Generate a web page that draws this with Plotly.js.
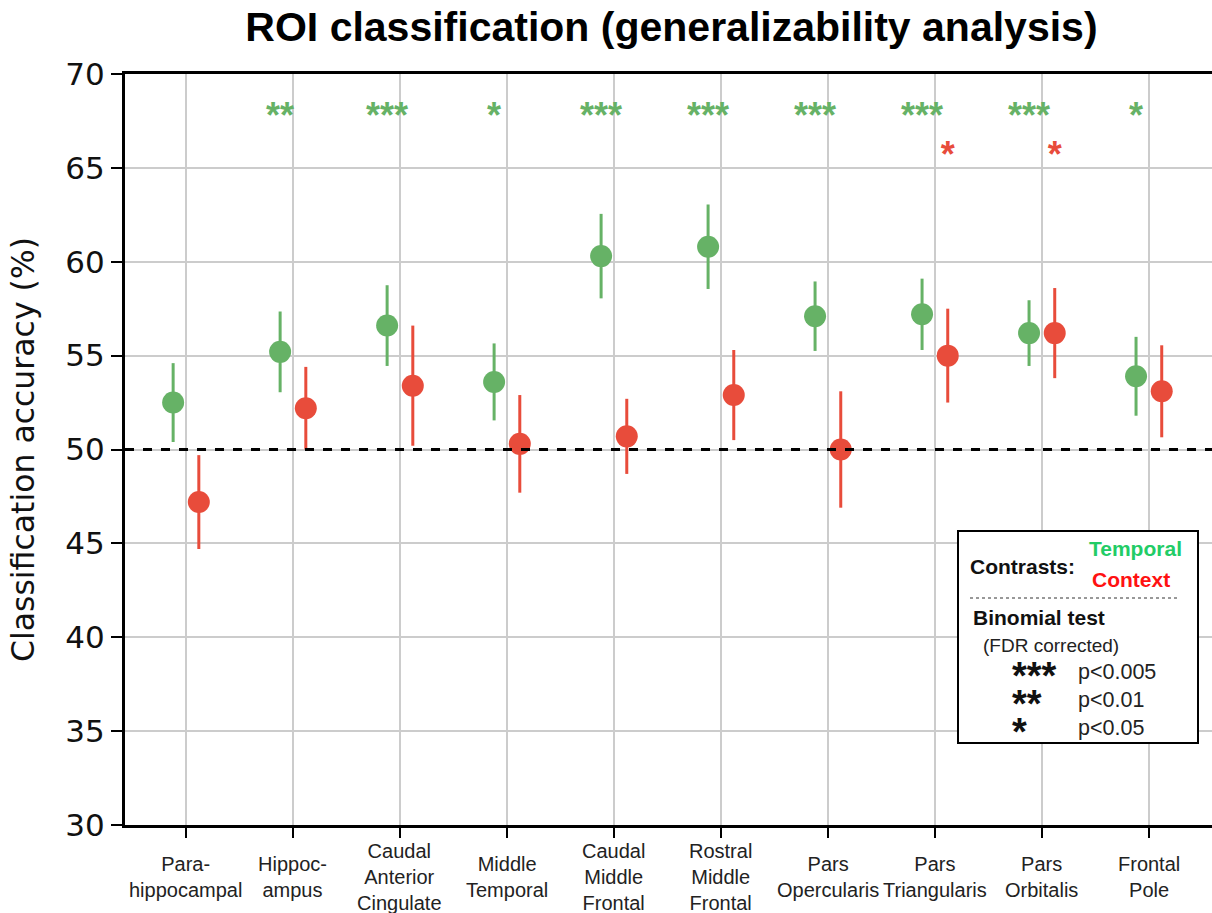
<!DOCTYPE html>
<html>
<head>
<meta charset="utf-8">
<script src="https://cdn.plot.ly/plotly-3.0.1.min.js"></script>
<style>html,body{margin:0;padding:0;background:#fff;}#chart{width:1212px;height:913px;}</style>
</head>
<body>
<div id="chart"></div>
<script>
// ---- data ----
const regions = ["Para-<br>hippocampal", "Hippoc-<br>ampus", "Caudal<br>Anterior<br>Cingulate", "Middle<br>Temporal",
  "Caudal<br>Middle<br>Frontal", "Rostral<br>Middle<br>Frontal", "Pars<br>Opercularis", "Pars<br>Triangularis",
  "Pars<br>Orbitalis", "Frontal<br>Pole"];
const temporalAcc = [52.5, 55.2, 56.6, 53.6, 60.3, 60.8, 57.1, 57.2, 56.2, 53.9];
const temporalErr = [2.1, 2.15, 2.15, 2.05, 2.25, 2.25, 1.85, 1.9, 1.75, 2.1];
const contextAcc  = [47.2, 52.2, 53.4, 50.3, 50.7, 52.9, 50.0, 55.0, 56.2, 53.1];
const contextErr  = [2.5, 2.2, 3.2, 2.6, 2.0, 2.4, 3.1, 2.5, 2.4, 2.45];
const temporalSig = ["", "**", "***", "*", "***", "***", "***", "***", "***", "*"];
const contextSig  = ["", "", "", "", "", "", "", "*", "*", ""];
const sigLevels = ["***", "**", "*"];
const sigPvals  = ["p<0.005", "p<0.01", "p<0.05"];
const chance = 50;

// ---- style ----
const GREEN = "#66b266", RED = "#e84c3b";
const OFF = 0.12;
const idx = regions.map((_, i) => i);
const xT = idx.map(i => i - OFF);
const xC = idx.map(i => i + OFF);
const lf = "Liberation Sans, Arial, sans-serif";

const traces = [
  { x: xT, y: temporalAcc, type: "scatter", mode: "markers",
    marker: { color: GREEN, size: 22 },
    error_y: { type: "data", array: temporalErr, visible: true, color: GREEN, thickness: 3, width: 0 },
    showlegend: false, hoverinfo: "skip" },
  { x: xC, y: contextAcc, type: "scatter", mode: "markers",
    marker: { color: RED, size: 22 },
    error_y: { type: "data", array: contextErr, visible: true, color: RED, thickness: 3, width: 0 },
    showlegend: false, hoverinfo: "skip" },
  { x: xT, y: idx.map(() => 67.62), type: "scatter", mode: "text", text: temporalSig,
    textfont: { family: lf, size: 36, color: GREEN, weight: "bold" }, textposition: "middle center",
    showlegend: false, hoverinfo: "skip" },
  { x: xC, y: idx.map(() => 65.55), type: "scatter", mode: "text", text: contextSig,
    textfont: { family: lf, size: 36, color: RED, weight: "bold" }, textposition: "middle center",
    showlegend: false, hoverinfo: "skip" }
];

const P = (px) => (px - 125) / 1087;
const Q = (py) => (825 - py) / 751;

const annotations = regions.map((r, i) => ({
  x: i, y: Q(877), xref: "x", yref: "paper", text: r, showarrow: false,
  xanchor: "center", yanchor: "middle", align: "center",
  font: { family: lf, size: 20, color: "#222" }
}));

annotations.push(
  { x: P(968), y: Q(566), xref: "paper", yref: "paper", text: "<b>Contrasts:</b>", showarrow: false, xanchor: "left", yanchor: "middle", font: { family: lf, size: 21, color: "#111" } },
  { x: P(1135), y: Q(548), xref: "paper", yref: "paper", text: "<b>Temporal</b>", showarrow: false, xanchor: "center", yanchor: "middle", font: { family: lf, size: 21, color: "#22cc66" } },
  { x: P(1131), y: Q(579), xref: "paper", yref: "paper", text: "<b>Context</b>", showarrow: false, xanchor: "center", yanchor: "middle", font: { family: lf, size: 21, color: "#ff1111" } },
  { x: P(971), y: Q(617), xref: "paper", yref: "paper", text: "<b>Binomial test</b>", showarrow: false, xanchor: "left", yanchor: "middle", font: { family: lf, size: 21, color: "#111" } },
  { x: P(981), y: Q(645), xref: "paper", yref: "paper", text: "(FDR corrected)", showarrow: false, xanchor: "left", yanchor: "middle", font: { family: lf, size: 19, color: "#222" } },
  { x: P(1010), y: Q(704), xref: "paper", yref: "paper",
    text: sigLevels.map(s => "<b><span style='font-size:38px'>" + s + "</span></b>").join("<br>"),
    showarrow: false, xanchor: "left", yanchor: "middle", align: "left", font: { family: lf, size: 21.5, color: "#111" } },
  { x: P(1076), y: Q(700), xref: "paper", yref: "paper", text: sigPvals.join("<br>"),
    showarrow: false, xanchor: "left", yanchor: "middle", align: "left", font: { family: lf, size: 21.5, color: "#222" } }
);

const shapes = [
  { type: "line", xref: "paper", yref: "y", x0: 0, x1: 1, y0: chance, y1: chance, line: { color: "#000", width: 3, dash: "dash" } },
  { type: "rect", xref: "paper", yref: "paper", x0: P(958), x1: P(1198), y0: Q(743), y1: Q(531), fillcolor: "#fff", line: { color: "#000", width: 2 } },
  { type: "line", xref: "paper", yref: "paper", x0: P(970), x1: P(1178), y0: Q(598), y1: Q(598), line: { color: "#333", width: 1, dash: "dot" } }
];

const layout = {
  width: 1212, height: 913,
  margin: { l: 125, r: 0, t: 74, b: 88 },
  paper_bgcolor: "#fff", plot_bgcolor: "#fff",
  title: { text: "<b>ROI classification (generalizability analysis)</b>", x: 0.554, xanchor: "center", y: 0.971, yanchor: "middle",
    font: { family: lf, size: 41, color: "#000" } },
  xaxis: { range: [-0.57, 9.59], tickvals: idx, ticktext: idx.map(() => ""), showgrid: true, gridcolor: "#cccccc", gridwidth: 2,
    zeroline: false, showline: true, linecolor: "#000", linewidth: 3, mirror: true,
    ticks: "outside", ticklen: 10, tickwidth: 2, tickcolor: "#000" },
  yaxis: { range: [30, 70], tickvals: [30, 35, 40, 45, 50, 55, 60, 65, 70], showgrid: true, gridcolor: "#cccccc", gridwidth: 2,
    zeroline: false, showline: true, linecolor: "#000", linewidth: 3,
    ticks: "outside", ticklen: 11, tickwidth: 2, tickcolor: "#000",
    tickfont: { family: "DejaVu Sans", size: 31, color: "#111" },
    title: { text: "Classification accuracy (%)", font: { family: "DejaVu Sans", size: 31.5, color: "#111" }, standoff: 22 } },
  shapes: shapes, annotations: annotations
};

Plotly.newPlot("chart", traces, layout, { displayModeBar: false, staticPlot: true });
</script>
</body>
</html>
